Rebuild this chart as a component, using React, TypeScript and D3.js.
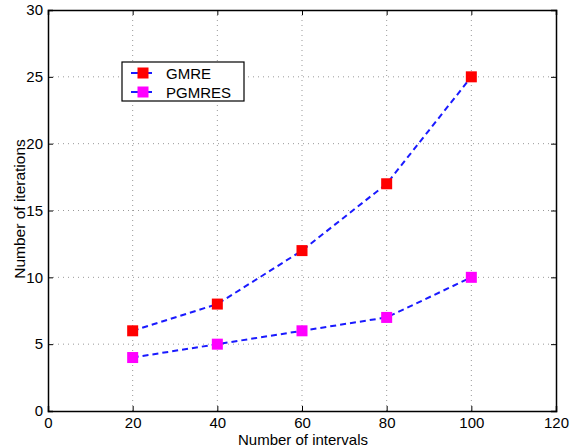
import React, { useEffect, useRef } from 'react';
import * as d3 from 'd3';

const intervals = [20, 40, 60, 80, 100];
const gmreIterations = [6, 8, 12, 17, 25];
const pgmresIterations = [4, 5, 6, 7, 10];
const xTicks = [0, 20, 40, 60, 80, 100, 120];
const yTicks = [0, 5, 10, 15, 20, 25, 30];

const App = () => {
    const svgRef = useRef<SVGSVGElement>(null);
    const width = 572;
    const height = 448;

    useEffect(() => {
        const svg = d3.select(svgRef.current);
        svg.selectAll("*").remove();

        const margin = { top: 10, right: 16, bottom: 37, left: 48 };
        const innerWidth = width - margin.left - margin.right;
        const innerHeight = height - margin.top - margin.bottom;
        const font = "'Liberation Sans', Arial, Helvetica, sans-serif";
        const fs = 15;

        const g = svg.append("g")
            .attr("transform", `translate(${margin.left},${margin.top})`);

        const x = d3.scaleLinear().domain([0, 120]).range([0, innerWidth]);
        const y = d3.scaleLinear().domain([0, 30]).range([innerHeight, 0]);

        // Dotted grid
        g.selectAll(".vgrid")
            .data(xTicks.slice(1, -1))
            .enter()
            .append("line")
            .attr("x1", d => x(d)).attr("x2", d => x(d))
            .attr("y1", 0).attr("y2", innerHeight)
            .attr("stroke", "#999")
            .attr("stroke-width", 1)
            .attr("stroke-dasharray", "1,4");

        g.selectAll(".hgrid")
            .data(yTicks.slice(1, -1))
            .enter()
            .append("line")
            .attr("x1", 0).attr("x2", innerWidth)
            .attr("y1", d => y(d)).attr("y2", d => y(d))
            .attr("stroke", "#999")
            .attr("stroke-width", 1)
            .attr("stroke-dasharray", "1,4");

        // Axes (ticks inward, box on all sides)
        const tickSize = 5;
        const bottom = g.append("g")
            .attr("transform", `translate(0,${innerHeight})`)
            .call(d3.axisBottom(x).tickValues(xTicks).tickSize(-tickSize).tickPadding(6));
        const left = g.append("g")
            .call(d3.axisLeft(y).tickValues(yTicks).tickSize(-tickSize).tickPadding(5));
        g.append("g")
            .call(d3.axisTop(x).tickValues(xTicks).tickSize(-tickSize).tickFormat(() => ""));
        g.append("g")
            .attr("transform", `translate(${innerWidth},0)`)
            .call(d3.axisRight(y).tickValues(yTicks).tickSize(-tickSize).tickFormat(() => ""));

        g.selectAll(".domain").attr("stroke", "#000").attr("stroke-width", 1.5);
        g.selectAll(".tick line").attr("stroke", "#000");
        [bottom, left].forEach(a => a.selectAll("text")
            .attr("font-family", font)
            .attr("font-size", fs)
            .attr("fill", "#000"));

        // Series
        const series = [
            { values: gmreIterations, color: "#ff0000", label: "GMRE" },
            { values: pgmresIterations, color: "#ff00ff", label: "PGMRES" }
        ];

        const line = d3.line<number>()
            .x((_, i) => x(intervals[i]))
            .y(d => y(d));

        const m = 11;
        series.forEach(s => {
            g.append("path")
                .datum(s.values)
                .attr("fill", "none")
                .attr("stroke", "#1a1aff")
                .attr("stroke-width", 2)
                .attr("stroke-dasharray", "6,4")
                .attr("d", line);

            g.selectAll(null)
                .data(s.values)
                .enter()
                .append("rect")
                .attr("x", (_, i) => x(intervals[i]) - m / 2)
                .attr("y", d => y(d) - m / 2)
                .attr("width", m)
                .attr("height", m)
                .attr("fill", s.color);
        });

        // Legend
        const legend = svg.append("g").attr("transform", "translate(122,62)");
        legend.append("rect")
            .attr("width", 122)
            .attr("height", 39)
            .attr("fill", "#fff")
            .attr("stroke", "#000")
            .attr("stroke-width", 1.2);
        series.forEach((s, i) => {
            const cy = 11 + i * 19;
            legend.append("line")
                .attr("x1", 9).attr("x2", 30)
                .attr("y1", cy).attr("y2", cy)
                .attr("stroke", "#1a1aff")
                .attr("stroke-width", 2);
            legend.append("rect")
                .attr("x", 21 - m / 2).attr("y", cy - m / 2)
                .attr("width", m).attr("height", m)
                .attr("fill", s.color);
            legend.append("text")
                .attr("x", 44).attr("y", cy + 5.5)
                .attr("font-family", font)
                .attr("font-size", fs)
                .text(s.label);
        });

        // Axis titles
        svg.append("text")
            .attr("x", 303)
            .attr("y", 444.5)
            .attr("text-anchor", "middle")
            .attr("font-family", font)
            .attr("font-size", fs)
            .text("Number of intervals");

        svg.append("text")
            .attr("transform", "translate(25,209) rotate(-90)")
            .attr("text-anchor", "middle")
            .attr("font-family", font)
            .attr("font-size", 15.5)
            .text("Number of iterations");
    }, []);

    return (
        <svg ref={svgRef} width={width} height={height}
            style={{ position: 'absolute', left: 0, top: 0 }}></svg>
    );
};

export default App;
